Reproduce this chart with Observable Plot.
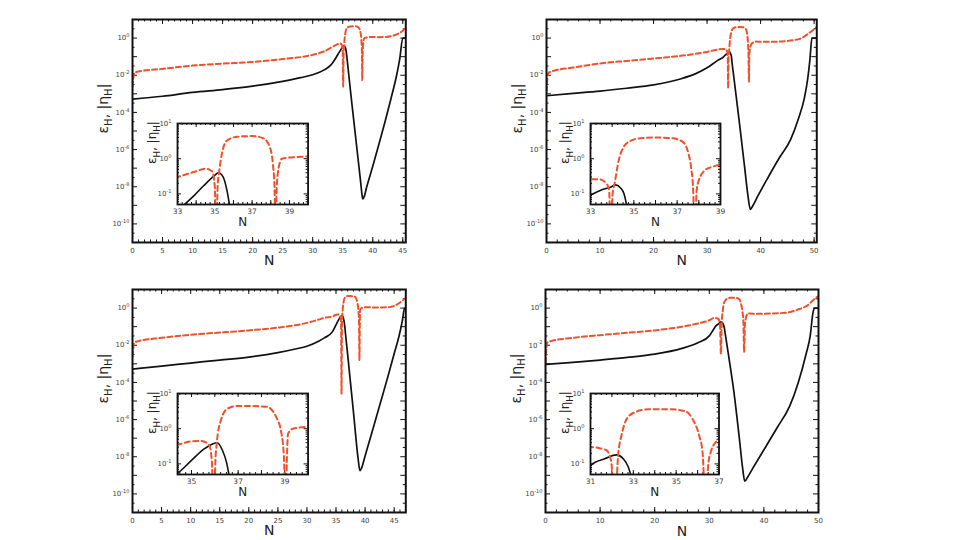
<!DOCTYPE html>
<html><head><meta charset="utf-8">
<script src="https://cdn.jsdelivr.net/npm/d3@7"></script>
<script src="https://cdn.jsdelivr.net/npm/@observablehq/plot@0.6"></script>
<style>
body{margin:0;background:#fff;}
#page{position:relative;width:959px;height:540px;overflow:hidden;background:#fff;font-family:"DejaVu Sans",sans-serif;}
#page svg{position:absolute;overflow:visible;}
</style></head><body><div id="page"></div>
<script>
// ---------- data (N, epsilon_H) and (N, |eta_H|) per panel ----------
const eps1N = [0,5,10,15,20,25,28,30,32,33,33.9,34.4,34.95,35.2,35.45,35.65,35.8,36,36.5,37,37.5,38,38.2,38.35,38.55,39,40,41,42,43,44,44.5,45,45.5];
const eps1  = [5.2e-4,7.4e-4,1.2e-3,1.7e-3,2.6e-3,4.7e-3,7.4e-3,1.07e-2,2.0e-2,3.5e-2,9.1e-2,0.17,0.32,0.40,0.30,0.126,0.045,1.1e-2,3.5e-4,1.26e-5,4.5e-7,1.6e-8,4e-9,2.2e-9,2.8e-9,1e-8,1.26e-7,1.8e-6,2.8e-5,5e-4,1.1e-2,7.9e-2,1,1];
const eta1N = [0,0.3,1,5,10,15,20,25,30,32,33,34,34.5,34.85,35,35.07,35.15,35.22,35.4,35.66,36.2,37,37.6,37.98,38.12,38.2,38.25,38.32,38.45,38.6,39.2,40,41,42,43,44,45,45.5];
const eta1  = [2.4e-3,1.3e-2,1.6e-2,2.2e-2,3.3e-2,4.2e-2,5.2e-2,7.4e-2,0.126,0.2,0.3,0.44,0.52,0.44,0.16,2.4e-3,0.16,0.37,1.55,3.3,4.2,4.4,3.8,1.9,0.65,0.16,5.4e-3,0.16,0.65,1.0,1.1,1.15,1.12,1.15,1.26,1.6,2.5,3.8];

const eps2N = [0,5,10,15,20,25,28,30,32,33,33.5,33.95,34.16,34.4,34.55,34.68,35,36,37,37.6,38.1,38.5,39.5,41.2,43.4,45.6,47,48.2,48.8,49.2,49.6,50.5];
const eps2  = [7.9e-4,1.05e-3,1.4e-3,2.0e-3,3.0e-3,6.3e-3,1.26e-2,2.5e-2,6.3e-2,9.3e-2,0.129,0.158,0.18,0.145,0.1,0.045,7.9e-3,3.5e-5,1.26e-7,4e-9,6e-10,8.9e-10,3.2e-9,2.5e-8,3.2e-7,3.4e-6,4e-5,6.3e-4,6.3e-3,6.3e-2,1,1];
const eta2N = [0,0.3,1,5,10,15,20,25,30,32,33,33.4,33.7,33.86,33.94,34.02,34.12,34.3,34.54,34.84,35.3,36.05,36.8,37.26,37.5,37.64,37.74,37.82,37.9,38,38.3,38.6,39,40,42,44,46,47.5,49,50.5];
const eta2  = [1.3e-3,1.3e-2,1.6e-2,2.6e-2,4.3e-2,5.9e-2,7.9e-2,0.11,0.18,0.24,0.26,0.26,0.21,0.126,2e-3,0.1,0.21,0.89,2.2,3.2,3.8,4.0,3.8,3.0,1.55,0.58,0.123,4.5e-3,0.126,0.24,0.48,0.58,0.65,0.63,0.63,0.66,0.76,0.95,1.8,4];

const eps3N = [0,5,10,15,20,25,28,30,32,33,34.4,35,35.56,35.9,36.1,36.33,36.5,36.62,37,38,38.8,39.1,39.4,40,41,42,43,44,45,45.8,46.4,46.8,47];
const eps3  = [5.2e-4,7.6e-4,1.1e-3,1.6e-3,2.3e-3,4e-3,6.3e-3,8.9e-3,1.66e-2,2.5e-2,5.4e-2,0.126,0.27,0.37,0.40,0.24,0.112,0.045,3.2e-3,2.5e-6,7.9e-9,1.8e-9,2.5e-9,1.1e-8,1.3e-7,1.6e-6,2e-5,2.5e-4,3.5e-3,2.8e-2,0.2,1,1];
const eta3N = [0,0.3,1,5,10,15,20,25,30,32,33,34.4,35,35.42,35.77,35.88,35.95,36.02,36.08,36.26,36.54,36.96,37.52,38.22,38.64,38.86,38.97,39.03,39.09,39.14,39.35,40,42,44,45,46,47];
const eta3  = [2.4e-3,1.4e-2,1.66e-2,2.5e-2,3.7e-2,4.8e-2,6.3e-2,8.9e-2,0.16,0.24,0.3,0.35,0.44,0.45,0.33,0.1,2.5e-5,0.1,0.37,1.74,3.7,4.4,4.4,4.2,2.1,0.72,0.126,1.6e-3,0.126,0.72,1,1.12,1.07,1.12,1.3,2,3.5];

const eps4N = [0,5,10,15,20,25,28,30,31,31.2,31.66,32.21,32.53,32.76,32.9,33.5,34.5,35.5,36.1,36.5,37,38,40.4,42.5,44.7,46.3,47.75,48.5,48.96,49.25,50];
const eps4  = [9.3e-4,1.2e-3,1.6e-3,2.2e-3,3.3e-3,6.8e-3,1.4e-2,3.2e-2,9.1e-2,0.11,0.14,0.18,0.14,8.3e-2,4.5e-2,3.2e-3,3.2e-5,1e-7,2.5e-9,4.8e-10,7.9e-10,2.5e-9,3.7e-8,4e-7,5.1e-6,1e-4,3.6e-3,3.5e-2,0.5,1,1];
const eta4N = [0,0.3,1,5,10,15,20,25,28,30,31,31.42,31.74,31.97,32.13,32.29,32.45,32.69,33.08,33.71,34.81,35.44,35.76,36.07,36.23,36.38,36.5,36.62,36.85,37,38,40,44,46.5,48,49.3,50];
const eta4  = [1.1e-3,1.4e-2,1.66e-2,2.5e-2,3.5e-2,4.7e-2,6.3e-2,0.1,0.15,0.22,0.30,0.28,0.245,0.115,3.5e-3,0.178,0.65,1.9,2.95,3.55,3.55,3.1,1.9,0.65,0.22,4.4e-3,0.1,0.22,0.42,0.52,0.5,0.5,0.56,0.89,1.4,3.2,4.5];

// ---------- tick labels ----------
const xTicks1 = [0,5,10,15,20,25,30,35,40,45];
const xTicks2 = [0,10,20,30,40,50];
const xTicks3 = [0,5,10,15,20,25,30,35,40,45];
const xTicks4 = [0,10,20,30,40,50];
const inTicks1 = [33,35,37,39];
const inTicks2 = [33,35,37,39];
const inTicks3 = [35,37,39];
const inTicks4 = [31,33,35,37];
const yTicksMain = [1,1e-2,1e-4,1e-6,1e-8,1e-10];
const yTicksInset = [10,1,0.1];
const xLabel = "N";
const yLabel = "εH, |ηH|";

const RED = "#f0502a", BLACK = "#111", GREY = "#444";

const panels = [
  {left:131.7, top:19, w:273.3, h:223, xDomain:[0,45.5], xTicks:xTicks1, xMinStep:1, xMajStep:5,
   epsN:eps1N, eps:eps1, etaN:eta1N, eta:eta1,
   inset:{left:176.7, top:123.3, w:130.6, h:81, xDomain:[33,40], ticks:inTicks1}},
  {left:545.7, top:19, w:270.3, h:223, xDomain:[0,50.5], xTicks:xTicks2, xMinStep:2, xMajStep:10,
   epsN:eps2N, eps:eps2, etaN:eta2N, eta:eta2,
   inset:{left:589.5, top:123.3, w:130, h:81, xDomain:[33,39], ticks:inTicks2}},
  {left:131.7, top:289, w:273.3, h:223, xDomain:[0,47], xTicks:xTicks3, xMinStep:1, xMajStep:5,
   epsN:eps3N, eps:eps3, etaN:eta3N, eta:eta3,
   inset:{left:176.7, top:393.3, w:130.6, h:81, xDomain:[34.4,40], ticks:inTicks3}},
  {left:545.3, top:289, w:273, h:223, xDomain:[0,50], xTicks:xTicks4, xMinStep:2, xMajStep:10,
   epsN:eps4N, eps:eps4, etaN:eta4N, eta:eta4,
   inset:{left:589.5, top:393.3, w:128.5, h:81, xDomain:[31,37], ticks:inTicks4}}
];

const rows = (ns, vs) => ns.map((n, i) => ({N: n, v: vs[i]}));
const within = (arr, dom) => arr.filter(d => d >= dom[0] - 1e-9 && d <= dom[1] + 1e-9);

function tickMarks(xMaj, xMin, yMaj, yMin, iw, ih, LM, Lm) {
  const m = [];
  const st = {stroke: BLACK, strokeWidth: 1};
  for (const [vals, L] of [[xMaj, LM], [xMin, Lm]]) {
    m.push(Plot.tickX(vals, {x: d => d, insetTop: ih - L, ...st}));
    m.push(Plot.tickX(vals, {x: d => d, insetBottom: ih - L, ...st}));
  }
  for (const [vals, L] of [[yMaj, LM], [yMin, Lm]]) {
    m.push(Plot.tickY(vals, {y: d => d, insetRight: iw - L, ...st}));
    m.push(Plot.tickY(vals, {y: d => d, insetLeft: iw - L, ...st}));
  }
  return m;
}

// rich text: superscript exponents and subscript H
function richText(svg, supFs, labFs) {
  d3.select(svg).selectAll("text").each(function () {
    const t = d3.select(this);
    const s = this.textContent;
    if (/^10\^/.test(s)) {
      const parts = s.split("^");
      t.text(null);
      t.append("tspan").text(parts[0]);
      t.append("tspan").attr("dy", -supFs * 0.45).attr("font-size", supFs * 0.72).text(parts[1]);
    } else if (s === yLabel) {
      const sh = labFs * 0.28, small = labFs * 0.72;
      t.text(null);
      t.append("tspan").text("ε");
      t.append("tspan").attr("dy", sh).attr("font-size", small).text("H");
      t.append("tspan").attr("dy", -sh).text(", |η");
      t.append("tspan").attr("dy", sh).attr("font-size", small).text("H");
      t.append("tspan").attr("dy", -sh).text("|");
    }
  });
}

const page = document.getElementById("page");

function mainPlot(p) {
  const ml = 52, mt = 19, mr = 10, mb = 33;
  const yDom = [1e-11, 10];
  const xMaj = within(d3.range(0, 60, p.xMajStep), p.xDomain);
  const xMin = within(d3.range(0, 60, p.xMinStep), p.xDomain);
  const yMaj = d3.range(-11, 2).map(e => Math.pow(10, e));
  const yMin = d3.range(-11, 1).map(e => Math.pow(10, e + 0.5));
  const svg = Plot.plot({
    width: p.w + ml + mr, height: p.h + mt + mb,
    marginLeft: ml, marginRight: mr, marginTop: mt, marginBottom: mb,
    x: {domain: p.xDomain, axis: null},
    y: {type: "log", domain: yDom, axis: null},
    style: {background: "transparent", fontFamily: "DejaVu Sans", overflow: "visible"},
    marks: [
      ...tickMarks(xMaj, xMin, yMaj, yMin, p.w, p.h, 5, 2.5),
      Plot.line(rows(p.epsN, p.eps), {x: "N", y: "v", stroke: BLACK, strokeWidth: 1.7, curve: "monotone-x", clip: true}),
      Plot.line(rows(p.etaN, p.eta), {x: "N", y: "v", stroke: RED, strokeWidth: 2, strokeDasharray: "5,3", curve: "monotone-x", clip: true}),
      Plot.frame({stroke: BLACK, strokeWidth: 2}),
      Plot.text(p.xTicks, {x: d => d, text: d => String(d), frameAnchor: "bottom", lineAnchor: "top", dy: 6, fontSize: 7, fill: GREY}),
      Plot.text(yTicksMain, {y: d => d, text: d => "10^" + Math.round(Math.log10(d)), frameAnchor: "left", textAnchor: "end", dx: -3, fontSize: 7, fill: GREY}),
      Plot.text([xLabel], {text: d => d, frameAnchor: "bottom", dy: 23, fontSize: 14, fill: "#222"}),
      Plot.text([yLabel], {text: d => d, frameAnchor: "left", dx: -28.5, dy: 2.5, rotate: -90, fontSize: 14, fill: "#222"})
    ]
  });
  richText(svg, 7, 14);
  svg.style.left = (p.left - ml) + "px";
  svg.style.top = (p.top - mt) + "px";
  page.appendChild(svg);
}

function insetPlot(p) {
  const q = p.inset;
  const ml = 37, mt = 8, mr = 6, mb = 30;
  const yDom = [0.05, 10];
  const xMaj = within(d3.range(30, 41, 1), q.xDomain);
  const xMin = within(d3.range(30, 41, 0.25), q.xDomain);
  const yMaj = [0.1, 1, 10];
  const yMin = within([0.05,0.06,0.07,0.08,0.09,0.2,0.3,0.4,0.5,0.6,0.7,0.8,0.9,2,3,4,5,6,7,8,9], yDom);
  const svg = Plot.plot({
    width: q.w + ml + mr, height: q.h + mt + mb,
    marginLeft: ml, marginRight: mr, marginTop: mt, marginBottom: mb,
    x: {domain: q.xDomain, axis: null},
    y: {type: "log", domain: yDom, axis: null},
    style: {background: "transparent", fontFamily: "DejaVu Sans", overflow: "visible"},
    marks: [
      Plot.frame({fill: "white", stroke: null}),
      ...tickMarks(xMaj, xMin, yMaj, yMin, q.w, q.h, 4, 2),
      Plot.line(rows(p.epsN, p.eps), {x: "N", y: "v", stroke: BLACK, strokeWidth: 1.6, curve: "monotone-x", clip: true}),
      Plot.line(rows(p.etaN, p.eta), {x: "N", y: "v", stroke: RED, strokeWidth: 2, strokeDasharray: "5,3.5", curve: "monotone-x", clip: true}),
      Plot.frame({stroke: BLACK, strokeWidth: 1.8}),
      Plot.text(q.ticks, {x: d => d, text: d => String(d), frameAnchor: "bottom", lineAnchor: "top", dy: 4.5, fontSize: 7.5, fill: GREY}),
      Plot.text(yTicksInset, {y: d => d, text: d => "10^" + Math.round(Math.log10(d)), frameAnchor: "left", textAnchor: "end", dx: -6, fontSize: 7, fill: GREY}),
      Plot.text([xLabel], {text: d => d, frameAnchor: "bottom", dy: 21.5, fontSize: 12, fill: "#222"}),
      Plot.text([yLabel], {text: d => d, frameAnchor: "left", dx: -25, dy: 0, rotate: -90, fontSize: 12, fill: "#222"})
    ]
  });
  richText(svg, 7, 12);
  svg.style.left = (q.left - ml) + "px";
  svg.style.top = (q.top - mt) + "px";
  page.appendChild(svg);
}

for (const p of panels) { mainPlot(p); }
for (const p of panels) { insetPlot(p); }
</script>
</body></html>
